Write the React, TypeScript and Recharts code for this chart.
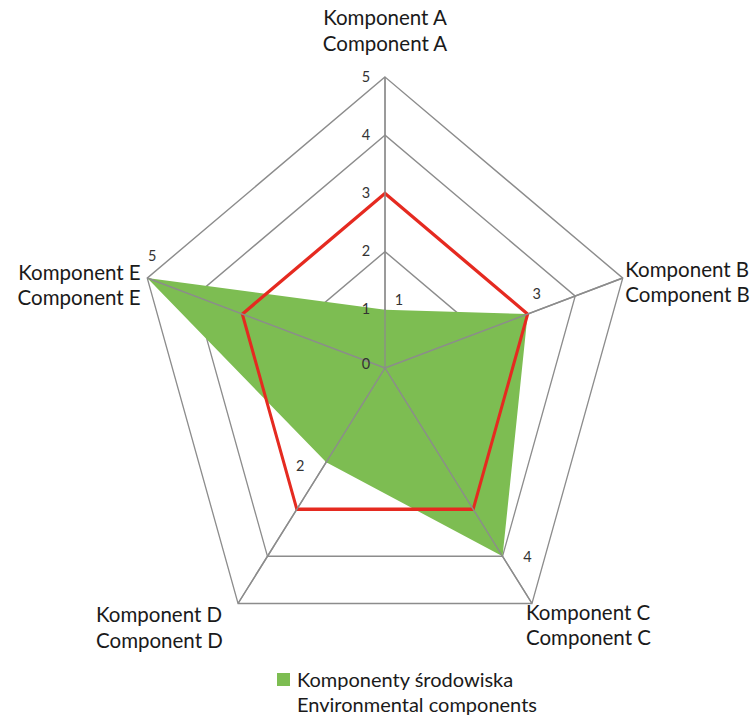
import React from 'react';
import { RadarChart, Radar, PolarGrid, PolarAngleAxis, PolarRadiusAxis, LabelList } from 'recharts';

const categories = ['A', 'B', 'C', 'D', 'E'];
const labelsPl = ['Komponent A', 'Komponent B', 'Komponent C', 'Komponent D', 'Komponent E'];
const labelsEn = ['Component A', 'Component B', 'Component C', 'Component D', 'Component E'];
const environmental = [1, 3, 4, 2, 5];
const reference = [3, 3, 3, 3, 3];
const radiusTicks = [0, 1, 2, 3, 4, 5];
const legendPl = 'Komponenty środowiska';
const legendEn = 'Environmental components';

const data = categories.map((c, i) => ({
  cat: c,
  env: environmental[i],
  ref: reference[i],
}));

const SX = 250 / 291;
const CX_SCREEN = 385;
const CY = 368;
const R = 291;
const SVG_W = Math.ceil(753 / SX);
const CX = CX_SCREEN / SX;
const FONT = 'Lato, "Open Sans", sans-serif';

const angleLabelPos: Record<string, { dx: number; y1: number; y2: number; anchor: 'start' | 'middle' | 'end' }> = {
  A: { dx: 0, y1: -52, y2: -26, anchor: 'middle' },
  B: { dx: -4, y1: -7, y2: 18, anchor: 'start' },
  C: { dx: -10, y1: 2, y2: 27, anchor: 'start' },
  D: { dx: -138, y1: 4, y2: 30, anchor: 'start' },
  E: { dx: 0, y1: -4, y2: 21, anchor: 'end' },
};

const dataLabelPos = [
  { dx: 14, dy: -10 },
  { dx: 9, dy: -21 },
  { dx: 25, dy: 0 },
  { dx: -26, dy: 3 },
  { dx: 5, dy: -23 },
];

const AngleTick = (props: any) => {
  const { x, y, payload } = props;
  const i = categories.indexOf(payload.value);
  const p = angleLabelPos[payload.value];
  return (
    <g transform={`translate(${x} ${y}) scale(${1 / SX} 1)`}>
      <text textAnchor={p.anchor} fontFamily={FONT} fontSize={20.5} fill="#1a1a1a" dominantBaseline="central">
        <tspan x={p.dx} y={p.y1}>{labelsPl[i]}</tspan>
        <tspan x={p.dx} y={p.y2}>{labelsEn[i]}</tspan>
      </text>
    </g>
  );
};

const RadiusTick = (props: any) => {
  const { x, y, payload } = props;
  return (
    <g transform={`translate(${x} ${y}) scale(${1 / SX} 1)`}>
      <text x={-19} y={payload.value === 0 ? -5 : -1} textAnchor="middle" dominantBaseline="central" fontFamily={FONT} fontSize={14.5} fill="#333">
        {payload.value}
      </text>
    </g>
  );
};

const DataLabel = (props: any) => {
  const { x, y, value, index } = props;
  const p = dataLabelPos[index] || { dx: 0, dy: 0 };
  return (
    <g transform={`translate(${x} ${y}) scale(${1 / SX} 1)`}>
      <text x={p.dx} y={p.dy} textAnchor="middle" dominantBaseline="central" fontFamily={FONT} fontSize={14.5} fill="#333">
        {value}
      </text>
    </g>
  );
};

const LegendContent = () => (
  <div style={{ position: 'absolute', left: 277, top: 667, fontFamily: FONT, fontSize: 20, color: '#1a1a1a', lineHeight: '25px' }}>
    <div style={{ display: 'flex', alignItems: 'flex-start' }}>
      <span style={{ display: 'inline-block', width: 13, height: 13, background: '#7dbd52', marginTop: 6, marginRight: 7 }} />
      <div>
        <div>{legendPl}</div>
        <div>{legendEn}</div>
      </div>
    </div>
  </div>
);

const extraGridProps: any = { zIndex: 450 };

export default function App() {
  return (
    <div style={{ position: 'absolute', left: 0, top: 0, width: 753, height: 715, background: '#fff', overflow: 'hidden' }}>
      <div style={{ position: 'absolute', left: 0, top: 0, width: SVG_W, height: 715, transform: `scaleX(${SX})`, transformOrigin: `0px ${CY}px` }}>
        <RadarChart width={SVG_W} height={715} data={data} cx={CX} cy={CY} outerRadius={R} margin={{ top: 0, right: 0, bottom: 0, left: 0 }}>
          <PolarGrid gridType="polygon" stroke="#8c8c8c" strokeWidth={1.5} strokeOpacity={1} />
          <PolarAngleAxis dataKey="cat" tick={<AngleTick />} tickLine={false} axisLine={false} />
          <PolarRadiusAxis domain={[0, 5]} ticks={radiusTicks as any} tickCount={6} angle={90} axisLine={false} tick={<RadiusTick />} />
          <Radar name={legendPl} dataKey="env" fill="#7dbd52" fillOpacity={1} stroke="none" isAnimationActive={false}>
            <LabelList dataKey="env" content={<DataLabel />} />
          </Radar>
          <PolarGrid gridType="polygon" polarRadius={[]} stroke="#8c8c8c" strokeWidth={1.5} strokeOpacity={1} {...extraGridProps} />
          <Radar name="ref" dataKey="ref" fill="none" fillOpacity={0} stroke="#e52a20" strokeWidth={3.5} legendType="none" isAnimationActive={false} />
        </RadarChart>
      </div>
      <LegendContent />
    </div>
  );
}
